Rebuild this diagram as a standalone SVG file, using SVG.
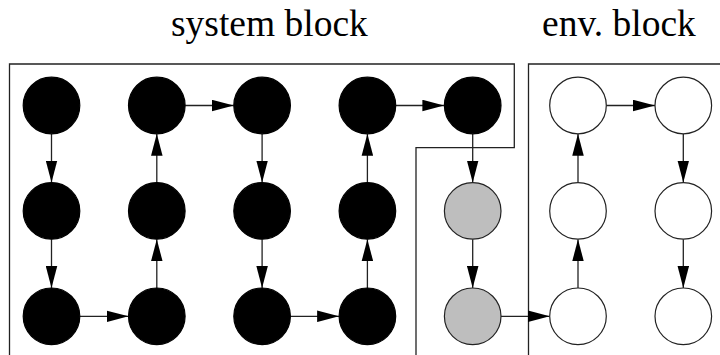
<svg xmlns="http://www.w3.org/2000/svg" width="720" height="355" viewBox="0 0 720 355">
<style>
.blk{fill:#000;stroke:#000;stroke-width:1.2}
.gry{fill:#bebebe;stroke:#222;stroke-width:1.2}
.wht{fill:#fff;stroke:#222;stroke-width:1.2}
.box{fill:none;stroke:#222;stroke-width:1.3}
.e{stroke:#222;stroke-width:1.3;fill:none;marker-end:url(#ah)}
.t{font-family:"Liberation Serif","Times New Roman",serif;font-size:37.5px;fill:#000}
</style>
<defs>
<marker id="ah" markerUnits="userSpaceOnUse" markerWidth="22" markerHeight="12" viewBox="0 0 21 11" refX="21" refY="5.5" orient="auto">
<path d="M0,0 L21,5.5 L0,11 z" fill="#000"/>
</marker>
</defs>
<text class="t" x="171" y="36">system block</text>
<text class="t" x="542" y="36">env. block</text>
<g id="blocks">
<path class="box" d="M9.5,360 V64 H514.3 V147.7 H416 V360"/>
<path class="box" d="M528.5,360 V64 H725"/>
</g>
<g id="connectors">
<line class="e" x1="51.5" y1="133.8" x2="51.5" y2="182.6"/>
<line class="e" x1="51.5" y1="239.2" x2="51.5" y2="288"/>
<line class="e" x1="79.8" y1="316.3" x2="128.5" y2="316.3"/>
<line class="e" x1="156.8" y1="288" x2="156.8" y2="239.2"/>
<line class="e" x1="156.8" y1="182.6" x2="156.8" y2="133.8"/>
<line class="e" x1="185.1" y1="105.5" x2="233.8" y2="105.5"/>
<line class="e" x1="262.1" y1="133.8" x2="262.1" y2="182.6"/>
<line class="e" x1="262.1" y1="239.2" x2="262.1" y2="288"/>
<line class="e" x1="290.4" y1="316.3" x2="339.1" y2="316.3"/>
<line class="e" x1="367.4" y1="288" x2="367.4" y2="239.2"/>
<line class="e" x1="367.4" y1="182.6" x2="367.4" y2="133.8"/>
<line class="e" x1="395.7" y1="105.5" x2="444.4" y2="105.5"/>
<line class="e" x1="472.7" y1="133.8" x2="472.7" y2="182.6"/>
<line class="e" x1="472.7" y1="239.2" x2="472.7" y2="288"/>
<line class="e" x1="501" y1="316.3" x2="549.7" y2="316.3"/>
<line class="e" x1="578" y1="288" x2="578" y2="239.2"/>
<line class="e" x1="578" y1="182.6" x2="578" y2="133.8"/>
<line class="e" x1="606.3" y1="105.5" x2="655" y2="105.5"/>
<line class="e" x1="683.3" y1="133.8" x2="683.3" y2="182.6"/>
<line class="e" x1="683.3" y1="239.2" x2="683.3" y2="288"/>
</g>
<g id="n11"><circle class="blk" cx="51.5" cy="105.5" r="28.3"/></g>
<g id="n12"><circle class="blk" cx="51.5" cy="210.9" r="28.3"/></g>
<g id="n13"><circle class="blk" cx="51.5" cy="316.3" r="28.3"/></g>
<g id="n21"><circle class="blk" cx="156.8" cy="105.5" r="28.3"/></g>
<g id="n22"><circle class="blk" cx="156.8" cy="210.9" r="28.3"/></g>
<g id="n23"><circle class="blk" cx="156.8" cy="316.3" r="28.3"/></g>
<g id="n31"><circle class="blk" cx="262.1" cy="105.5" r="28.3"/></g>
<g id="n32"><circle class="blk" cx="262.1" cy="210.9" r="28.3"/></g>
<g id="n33"><circle class="blk" cx="262.1" cy="316.3" r="28.3"/></g>
<g id="n41"><circle class="blk" cx="367.4" cy="105.5" r="28.3"/></g>
<g id="n42"><circle class="blk" cx="367.4" cy="210.9" r="28.3"/></g>
<g id="n43"><circle class="blk" cx="367.4" cy="316.3" r="28.3"/></g>
<g id="n51"><circle class="blk" cx="472.7" cy="105.5" r="28.3"/></g>
<g id="n52"><circle class="gry" cx="472.7" cy="210.9" r="28.3"/></g>
<g id="n53"><circle class="gry" cx="472.7" cy="316.3" r="28.3"/></g>
<g id="n61"><circle class="wht" cx="578" cy="105.5" r="28.3"/></g>
<g id="n62"><circle class="wht" cx="578" cy="210.9" r="28.3"/></g>
<g id="n63"><circle class="wht" cx="578" cy="316.3" r="28.3"/></g>
<g id="n71"><circle class="wht" cx="683.3" cy="105.5" r="28.3"/></g>
<g id="n72"><circle class="wht" cx="683.3" cy="210.9" r="28.3"/></g>
<g id="n73"><circle class="wht" cx="683.3" cy="316.3" r="28.3"/></g>
</svg>
